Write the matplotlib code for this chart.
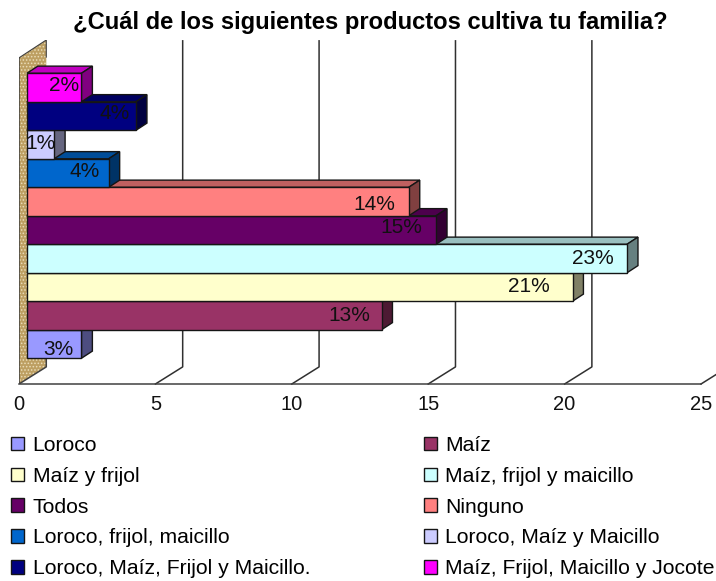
import matplotlib
matplotlib.use('Agg')
import matplotlib.pyplot as plt
from matplotlib.colors import to_rgb

plt.rcParams['font.family'] = ['Liberation Sans', 'DejaVu Sans']
plt.rcParams['hatch.linewidth'] = 0.7

categories = ['Loroco', 'Maíz', 'Maíz y frijol', 'Maíz, frijol y maicillo', 'Todos',
              'Ninguno', 'Loroco, frijol, maicillo', 'Loroco, Maíz y Maicillo',
              'Loroco, Maíz, Frijol y Maicillo.', 'Maíz, Frijol, Maicillo y Jocote']
values = [2, 13, 20, 22, 15, 14, 3, 1, 4, 2]
percent_labels = ['3%', '13%', '21%', '23%', '15%', '14%', '4%', '1%', '4%', '2%']
colors = ['#9999FF', '#993366', '#FFFFCC', '#CCFFFF', '#660066',
          '#FF8080', '#0066CC', '#CCCCFF', '#000080', '#FF00FF']
x_ticks = [0, 5, 10, 15, 20, 25]

# where the labels sit, shifted by hand like in the original
label_dx = [-0.85, -1.2, -1.6, -1.27, -1.27, -1.25, -0.9, -0.5, -0.8, -0.62]
label_dy = [-0.2, 0.0, 0.0, 0.0, 0.1, -0.1, 0.04, 0.05, 0.1, 0.08]

W, H = 716, 581
bar_left = 0.29      # bars start a bit inside the wall
wall_dx, wall_dy = 1.0, 0.6
bar_dx, bar_dy = 0.4, 0.25
y_low, y_high = -1.404, 10.667
wall_top = 10.04


def shade(c, f):
    return tuple(v * f for v in to_rgb(c))


fig = plt.figure(figsize=(W / 100, H / 100), dpi=100)
ax = fig.add_axes([19 / W, (H - 384) / H, 682 / W, 344 / H])
ax.set_xlim(0, 25)
ax.set_ylim(y_low, y_high)
ax.patch.set_visible(False)
for s in ['top', 'left', 'right']:
    ax.spines[s].set_visible(False)
ax.spines['bottom'].set_color('#404040')
ax.spines['bottom'].set_linewidth(1.1)
ax.set_yticks([])
ax.set_xticks(x_ticks)
ax.tick_params(axis='x', length=0, pad=8, labelsize=14.5, colors='#111111')

# back gridlines with the slanted piece down to the axis
for t in x_ticks[1:]:
    ax.plot([t, t + wall_dx, t + wall_dx], [y_low, y_low + wall_dy, y_high - 0.03],
            color='#303030', lw=1.1, clip_on=False, zorder=1)

# side wall
wall_x = [0, wall_dx, wall_dx, 0]
wall_y = [y_low, y_low + wall_dy, y_high, wall_top]
ax.fill(wall_x, wall_y, facecolor='#bd9f62', edgecolor='#eadcb8', hatch='.....', lw=0, zorder=2)
ax.plot([0, 0, wall_dx, wall_dx], [wall_top, y_low, y_low + wall_dy, y_low + wall_dy + 0.25],
        color='#404040', lw=1.1, zorder=3)
ax.plot([0, wall_dx, wall_dx], [wall_top, y_high, y_high - 0.6], color='#404040', lw=0.8, zorder=3)

for i, v in enumerate(values):
    z = 10 + i
    right = bar_left + v
    c = colors[i]
    ax.fill([bar_left, bar_left + bar_dx, right + bar_dx, right],
            [i + 0.5, i + 0.5 + bar_dy, i + 0.5 + bar_dy, i + 0.5],
            facecolor=shade(c, 0.75), edgecolor='#151515', lw=1.0, zorder=z)
    ax.fill([right, right + bar_dx, right + bar_dx, right],
            [i - 0.5, i - 0.5 + bar_dy, i + 0.5 + bar_dy, i + 0.5],
            facecolor=shade(c, 0.5), edgecolor='#151515', lw=1.0, zorder=z)
    ax.barh(i, v, left=bar_left, height=1, color=c, edgecolor='#151515', linewidth=1.0,
            label=categories[i], zorder=z)

for i, v in enumerate(values):
    ax.text(bar_left + v + label_dx[i], i + label_dy[i], percent_labels[i], ha='center', va='center',
            fontsize=15, color='#111111', zorder=40)

fig.text(370 / W, 1 - 22 / H, '¿Cuál de los siguientes productos cultiva tu familia?',
         ha='center', va='center', fontsize=17.1, fontweight='bold', color='black')

# legend reads across rows, matplotlib fills down columns
handles, labels = ax.get_legend_handles_labels()
order = list(range(0, 10, 2)) + list(range(1, 10, 2))
fig.legend([handles[i] for i in order], [labels[i] for i in order], ncols=2,
           loc='upper left', bbox_to_anchor=(11 / W, 1 - 436 / H), frameon=False,
           fontsize=15.2, labelspacing=0.56, handlelength=0.62, handleheight=0.62,
           handletextpad=0.4, columnspacing=5.38, borderpad=0, borderaxespad=0)

fig.savefig('out.png', dpi=100)
